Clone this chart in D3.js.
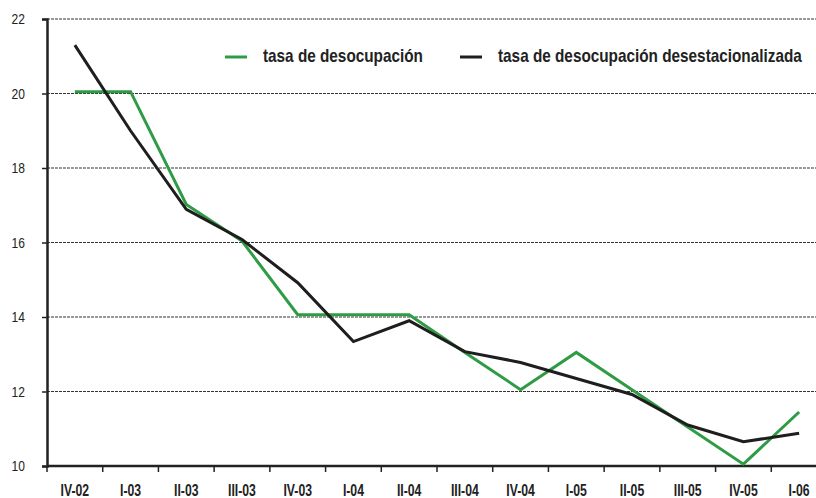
<!DOCTYPE html>
<html>
<head>
<meta charset="utf-8">
<script src="https://cdn.jsdelivr.net/npm/d3@7"></script>
<style>
  body { margin: 0; background: #fff; }
  svg { display: block; font-family: "Liberation Sans", Arial, sans-serif; }
</style>
</head>
<body>
<svg id="chart" width="816" height="498"></svg>
<script>
// trimestres
let trimestres = ["IV-02","I-03","II-03","III-03","IV-03","I-04","II-04","III-04","IV-04","I-05","II-05","III-05","IV-05","I-06"];
// tasa de desocupación
let tasa = [20.05, 20.05, 17.02, 16.04, 14.06, 14.06, 14.06, 13.05, 12.05, 13.05, 12.05, 11.05, 10.05, 11.45];
// tasa desestacionalizada
let tasaDesest = [21.3, 19.0, 16.89, 16.08, 14.92, 13.34, 13.9, 13.07, 12.78, 12.35, 11.92, 11.1, 10.65, 10.88];
let yTicks = [10, 12, 14, 16, 18, 20, 22];

let svg = d3.select("#chart");

let x = d3.scaleBand()
    .domain(trimestres)
    .range([47, 827]);

let y = d3.scaleLinear()
    .domain([10, 22])
    .range([466, 19]);

// angosta el texto (la fuente original es condensada)
function angostar(sel, factor){
    sel.each(function(){
        let w = this.getComputedTextLength();
        d3.select(this)
            .attr("textLength", w * factor)
            .attr("lengthAdjust", "spacingAndGlyphs");
    });
}

// lineas de grilla
svg.append("g")
    .selectAll("line")
    .data(yTicks.filter(d => d > 10))
    .enter()
    .append("line")
    .attr("x1", 47)
    .attr("x2", 816)
    .attr("y1", d => y(d))
    .attr("y2", d => y(d))
    .attr("stroke", "#333")
    .attr("stroke-width", 1)
    .attr("stroke-dasharray", "3,1");

// eje y
let yAxis = svg.append("g")
    .attr("transform", "translate(47,0)")
    .call(d3.axisLeft(y).tickValues(yTicks).tickSize(5).tickPadding(17).tickFormat(d3.format("d")));
yAxis.select(".domain").attr("stroke", "#222").attr("stroke-width", 2.5);
yAxis.selectAll(".tick line").attr("stroke", "#222").attr("stroke-width", 1.5);
yAxis.selectAll("text").attr("font-size", 14.5).attr("fill", "#222").attr("font-family", "Liberation Sans");
angostar(yAxis.selectAll("text"), 0.83);

// eje x
let xAxis = svg.append("g")
    .attr("transform", "translate(0,466)");
xAxis.append("line")
    .attr("x1", 47).attr("x2", 816)
    .attr("stroke", "#222").attr("stroke-width", 2.5);
xAxis.selectAll("line.tk")
    .data(trimestres)
    .enter()
    .append("line")
    .attr("class", "tk")
    .attr("x1", d => x(d)).attr("x2", d => x(d))
    .attr("y1", 0).attr("y2", 6)
    .attr("stroke", "#222").attr("stroke-width", 1.5);
let xLabels = xAxis.selectAll("text")
    .data(trimestres)
    .enter()
    .append("text")
    .attr("x", d => x(d) + x.bandwidth() / 2)
    .attr("y", 30)
    .attr("text-anchor", "middle")
    .attr("font-size", 16.5)
    .attr("font-weight", "bold")
    .attr("fill", "#222")
    .text(d => d);
angostar(xLabels, 0.74);

let line = d3.line()
    .x((d, i) => x(trimestres[i]) + x.bandwidth() / 2)
    .y(d => y(d));

svg.append("path")
    .datum(tasa)
    .attr("d", line)
    .attr("fill", "none")
    .attr("stroke", "#2e9c45")
    .attr("stroke-width", 3);

svg.append("path")
    .datum(tasaDesest)
    .attr("d", line)
    .attr("fill", "none")
    .attr("stroke", "#1e1e1e")
    .attr("stroke-width", 3);

// leyenda
let leyenda = [
    {nombre: "tasa de desocupación", color: "#2e9c45", x: 225, ancho: 160},
    {nombre: "tasa de desocupación desestacionalizada", color: "#1e1e1e", x: 460, ancho: 304}
];
let lg = svg.append("g");
leyenda.forEach(function(d){
    lg.append("line")
        .attr("x1", d.x).attr("x2", d.x + 22)
        .attr("y1", 57).attr("y2", 57)
        .attr("stroke", d.color).attr("stroke-width", 3);
    let t = lg.append("text")
        .attr("font-size", 18)
        .attr("font-weight", "bold")
        .attr("fill", "#222")
        .text(d.nombre);
    // escala horizontal para simular la fuente condensada
    let w = t.node().getComputedTextLength();
    t.attr("transform", "translate(" + (d.x + 38) + ",62) scale(" + (d.ancho / w) + ",1)");
});
</script>
</body>
</html>
